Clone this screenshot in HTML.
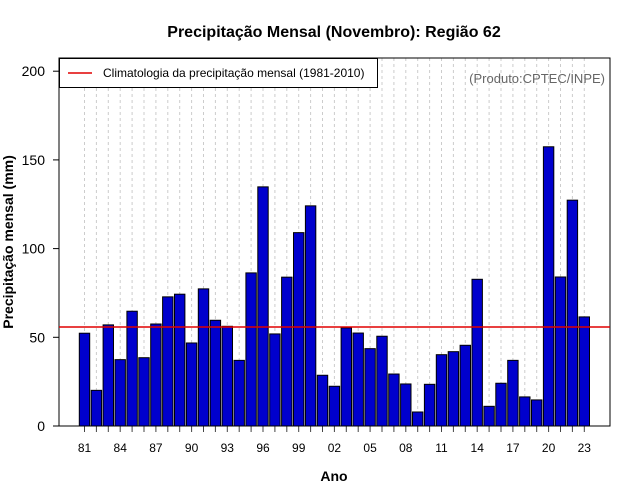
<!DOCTYPE html>
<html><head><meta charset="utf-8"><style>
body{margin:0;background:#fff}
svg{display:block;font-family:"Liberation Sans",sans-serif}
</style></head><body>
<svg id="chart" width="640" height="500">
<text x="334" y="37" text-anchor="middle" font-size="16" font-weight="bold">Precipitação Mensal (Novembro): Região 62</text>
<g id="grid"></g><g id="bars"></g><g id="axes"></g>
<rect x="59" y="58" width="551" height="368" fill="none" stroke="#000" stroke-width="1"/>
<line id="clim" x1="59" x2="610" stroke="#e00000" stroke-width="1.5"/>
<g>
<rect x="59.5" y="58.5" width="318" height="29" fill="#fff" stroke="#000"/>
<line x1="68" x2="92" y1="73" y2="73" stroke="#e00000" stroke-width="1.5"/>
<text x="103" y="77" font-size="12">Climatologia da precipitação mensal (1981-2010)</text>
</g>
<text x="605" y="83" text-anchor="end" font-size="13" fill="#666">(Produto:CPTEC/INPE)</text>
<text x="334" y="481" text-anchor="middle" font-size="14" font-weight="bold">Ano</text>
<text transform="translate(13,242) rotate(-90)" text-anchor="middle" font-size="14" font-weight="bold">Precipitação mensal (mm)</text>
</svg>
<script>
const years=[1981,1982,1983,1984,1985,1986,1987,1988,1989,1990,1991,1992,1993,1994,1995,1996,1997,1998,1999,2000,2001,2002,2003,2004,2005,2006,2007,2008,2009,2010,2011,2012,2013,2014,2015,2016,2017,2018,2019,2020,2021,2022,2023];
const values=[52.3,20.1,57,37.4,64.7,38.5,57.5,72.8,74.3,46.8,77.3,59.6,56.2,37,86.3,134.8,51.9,83.9,109,124.1,28.6,22.4,55.3,52.4,43.6,50.6,29.3,23.7,7.9,23.5,40.2,41.9,45.5,82.7,11.1,24.1,37,16.4,14.7,157.4,84,127.3,61.5];
const climatology=[55.8];
const yTicks=[0,50,100,150,200];
const NS="http://www.w3.org/2000/svg";
const y=v=>426-v*1.774;
const x=i=>84.5+i*(584.3-84.5)/(years.length-1);
function mk(t,a,p){const e=document.createElementNS(NS,t);for(const k in a)e.setAttribute(k,a[k]);p.appendChild(e);return e;}
const g=document.getElementById('grid'),b=document.getElementById('bars'),ax=document.getElementById('axes');
years.forEach((yr,i)=>{
 const gl=mk('line',{x1:x(i),x2:x(i),y1:58,y2:426,stroke:'#ccc','stroke-dasharray':'3,3'},g);
 
 
 const r=mk('rect',{x:x(i)-5.2,y:y(values[i]),width:10.4,height:426-y(values[i]),fill:'#0000cd',stroke:'#000','stroke-width':1},b);
 
 
 const tk=mk('line',{x1:x(i),x2:x(i),y1:426,y2:432,stroke:'#444'},ax);
 
 
 if(i%3===0){const t=mk('text',{x:x(i),y:452,'text-anchor':'middle','font-size':12},ax);t.textContent=String(yr).slice(2);
 
 }
});
yTicks.forEach(v=>{
 const tk=mk('line',{x1:53,x2:59,y1:y(v),y2:y(v),stroke:'#000'},ax);
 
 
 const t=mk('text',{x:45,y:y(v)+5,'text-anchor':'end','font-size':14},ax);t.textContent=v;
 
 
});
const c=document.getElementById('clim');c.setAttribute('y1',y(climatology[0]));c.setAttribute('y2',y(climatology[0]));
</script>
</body></html>
